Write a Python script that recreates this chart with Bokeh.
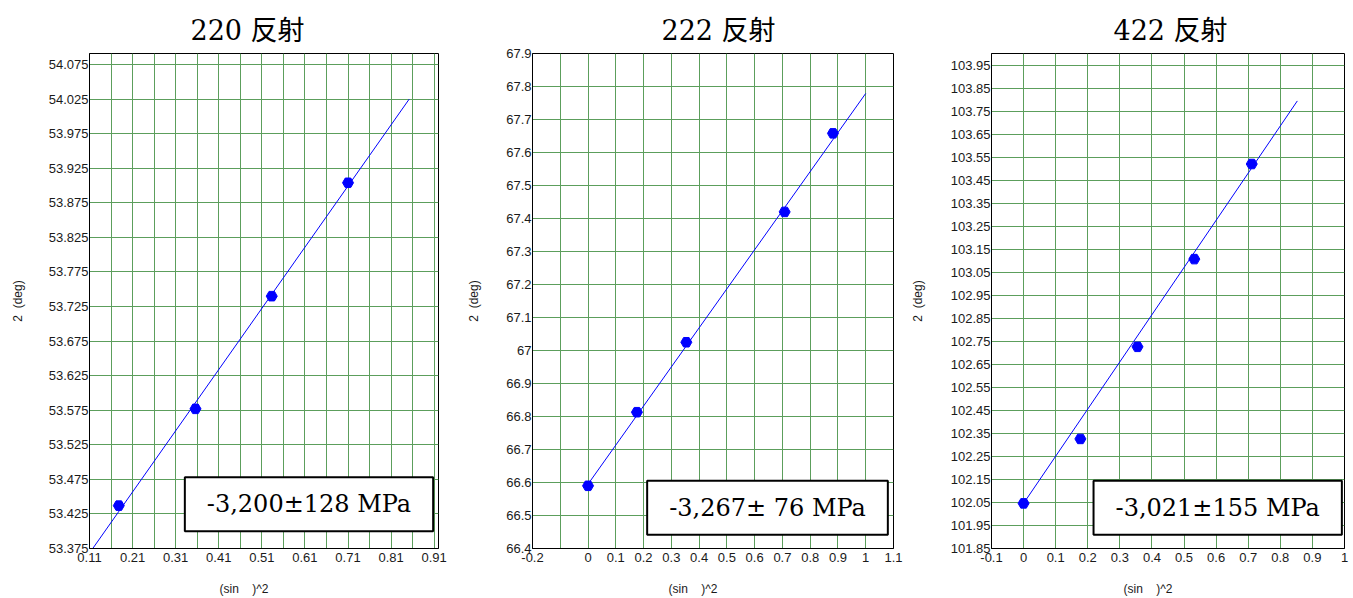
from bokeh.plotting import figure
from bokeh.layouts import row
from bokeh.models import FixedTicker, PrintfTickFormatter, Label, Range1d, Title
from bokeh.embed import file_html
from bokeh.resources import INLINE

# ---------------- data ----------------
titles = ["220 反射", "222 反射", "422 反射"]
stress_texts = ["-3,200±128 MPa", "-3,267± 76 MPa", "-3,021±155 MPa"]
x_label = "(sin\u00a0\u00a0\u00a0\u00a0)^2" + "\u00a0" * 12
y_label = "2\u00a0\u00a0(deg)"

# 220 reflection
sin2psi_220 = [0.178, 0.356, 0.533, 0.710]
two_theta_220 = [53.437, 53.577, 53.740, 53.904]
fit_x_220 = [0.0, 0.852]
fit_y_220 = [53.271, 54.025]
xticks_220 = [0.11, 0.21, 0.31, 0.41, 0.51, 0.61, 0.71, 0.81, 0.91]
xgrid_220 = [0.11, 0.16, 0.21, 0.26, 0.31, 0.36, 0.41, 0.46, 0.51, 0.56,
             0.61, 0.66, 0.71, 0.76, 0.81, 0.86, 0.91]
yticks_220 = [53.375, 53.425, 53.475, 53.525, 53.575, 53.625, 53.675, 53.725,
              53.775, 53.825, 53.875, 53.925, 53.975, 54.025, 54.075]

# 222 reflection
sin2psi_222 = [0.0, 0.176, 0.354, 0.708, 0.882]
two_theta_222 = [66.590, 66.813, 67.025, 67.420, 67.658]
fit_x_222 = [0.0, 1.0]
fit_y_222 = [66.595, 67.779]
xticks_222 = [-0.2, 0, 0.1, 0.2, 0.3, 0.4, 0.5, 0.6, 0.7, 0.8, 0.9, 1, 1.1]
xgrid_222 = [-0.2, -0.1, 0, 0.1, 0.2, 0.3, 0.4, 0.5, 0.6, 0.7, 0.8, 0.9, 1, 1.1]
yticks_222 = [66.4, 66.5, 66.6, 66.7, 66.8, 66.9, 67, 67.1, 67.2, 67.3, 67.4,
              67.5, 67.6, 67.7, 67.8, 67.9]

# 422 reflection
sin2psi_422 = [0.0, 0.177, 0.355, 0.532, 0.711]
two_theta_422 = [102.046, 102.326, 102.726, 103.107, 103.520]
fit_x_422 = [0.0, 0.853]
fit_y_422 = [102.046, 103.794]
xticks_422 = [-0.1, 0, 0.1, 0.2, 0.3, 0.4, 0.5, 0.6, 0.7, 0.8, 0.9, 1]
yticks_422 = [101.85, 101.95, 102.05, 102.15, 102.25, 102.35, 102.45, 102.55,
              102.65, 102.75, 102.85, 102.95, 103.05, 103.15, 103.25, 103.35,
              103.45, 103.55, 103.65, 103.75, 103.85, 103.95]

GRID = "#5c9e5c"
TICK_FONT = "Liberation Sans"
SERIF = "DejaVu Serif, Noto Sans CJK JP"


def make_panel(title, stress, xs, ys, fx, fy, xticks, xgrid, yticks,
               xr, yr, border_left, frame_w, border_right,
               title_off, box_x, box_y, ylab_standoff):
    p = figure(frame_width=frame_w, frame_height=495,
               min_border_left=border_left, min_border_right=border_right,
               min_border_top=53, min_border_bottom=50,
               x_range=Range1d(*xr), y_range=Range1d(*yr),
               output_backend="svg", toolbar_location=None,
               background_fill_color="white", border_fill_color="white")
    p.title = Title(text=title, align="left", offset=title_off,
                    text_font=SERIF, text_font_size="27px",
                    text_font_style="normal", text_color="black", standoff=16)
    p.outline_line_color = "black"
    p.outline_line_width = 1

    for ax in (p.xaxis[0], p.yaxis[0]):
        ax.major_tick_line_color = None
        ax.minor_tick_line_color = None
        ax.major_tick_out = 0
        ax.major_tick_in = 0
        ax.minor_tick_out = 0
        ax.minor_tick_in = 0
        ax.axis_line_color = "black"
        ax.axis_line_width = 1
        ax.major_label_text_font = TICK_FONT
        ax.major_label_text_font_size = "13px"
        ax.major_label_text_color = "#1a1a1a"
        ax.axis_label_text_font = TICK_FONT
        ax.axis_label_text_font_size = "12px"
        ax.axis_label_text_font_style = "normal"
        ax.axis_label_text_color = "#1a1a1a"
        ax.formatter = PrintfTickFormatter(format="%g")

    p.xaxis.ticker = FixedTicker(ticks=xticks)
    p.yaxis.ticker = FixedTicker(ticks=yticks)
    p.xaxis.major_label_standoff = 4
    p.yaxis.major_label_standoff = 1
    p.xaxis.axis_label = x_label
    p.yaxis.axis_label = y_label
    p.xaxis.axis_label_standoff = 17
    p.yaxis.axis_label_standoff = ylab_standoff

    p.xgrid.ticker = FixedTicker(ticks=xgrid)
    p.ygrid.ticker = FixedTicker(ticks=yticks)
    for g in (p.xgrid[0], p.ygrid[0]):
        g.grid_line_color = GRID
        g.grid_line_width = 1

    p.line(fx, fy, line_color="blue", line_width=1)
    p.scatter(xs, ys, marker="hex", size=11, fill_color="blue",
              line_color="blue")

    p.add_layout(Label(x=box_x, y=box_y, x_units="screen", y_units="screen",
                       text=stress, text_align="center", text_baseline="middle",
                       text_font="DejaVu Serif", text_font_size="24px",
                       text_color="black",
                       background_fill_color="white",
                       border_line_color="black", border_line_width=2,
                       padding=(22, 13)))
    return p


p1 = make_panel(titles[0], stress_texts[0], sin2psi_220, two_theta_220,
                fit_x_220, fit_y_220, xticks_220, xgrid_220, yticks_220,
                (0.11, 0.92), (53.375, 54.091), 89, 349, 22,
                101, 219.5, 44.3, 21)
p2 = make_panel(titles[1], stress_texts[1], sin2psi_222, two_theta_222,
                fit_x_222, fit_y_222, xticks_222, xgrid_222, yticks_222,
                (-0.2, 1.1), (66.4, 67.9), 72, 361, 14,
                129, 235, 40.8, 22)
p3 = make_panel(titles[2], stress_texts[2], sin2psi_422, two_theta_422,
                fit_x_422, fit_y_422, xticks_422, xticks_422, yticks_422,
                (-0.1, 1.0), (101.85, 104.0), 81, 353, 12,
                122, 226.2, 40.8, 23)

layout = row(p1, p2, p3)
open("out.html", "w").write(file_html(layout, INLINE))
